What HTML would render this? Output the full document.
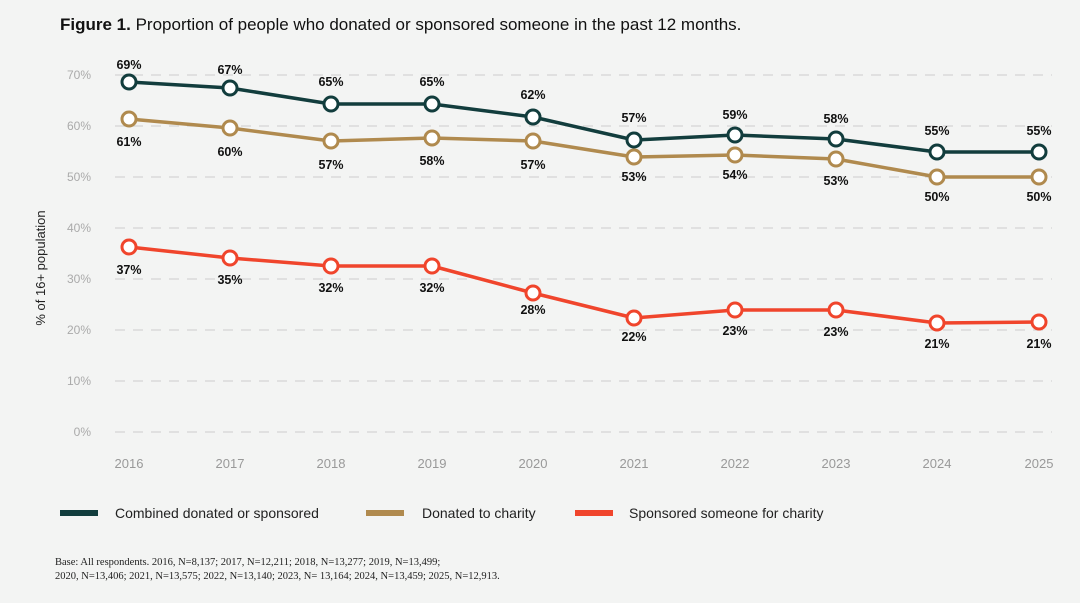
<!DOCTYPE html>
<html><head><meta charset="utf-8"><style>
body{margin:0;background:#f3f4f3;width:1080px;height:598px;overflow:hidden;font-family:"Liberation Sans",sans-serif}
</style></head><body>
<svg width="1080" height="598" xmlns="http://www.w3.org/2000/svg" font-family="Liberation Sans, sans-serif">
<rect width="1080" height="598" fill="#f3f4f3"/>
<text x="60" y="30" font-size="17" fill="#111"><tspan font-weight="bold">Figure 1.</tspan> Proportion of people who donated or sponsored someone in the past 12 months.</text>
<g stroke="#d4d4d4" stroke-width="1.2" stroke-dasharray="10,8">
<line x1="115" x2="1052" y1="75" y2="75"/><line x1="115" x2="1052" y1="126" y2="126"/><line x1="115" x2="1052" y1="177" y2="177"/><line x1="115" x2="1052" y1="228" y2="228"/><line x1="115" x2="1052" y1="279" y2="279"/><line x1="115" x2="1052" y1="330" y2="330"/><line x1="115" x2="1052" y1="381" y2="381"/><line x1="115" x2="1052" y1="432" y2="432"/>
</g>
<g font-size="12" fill="#aaa" text-anchor="end">
<text x="91" y="79">70%</text><text x="91" y="130">60%</text><text x="91" y="181">50%</text><text x="91" y="232">40%</text><text x="91" y="283">30%</text><text x="91" y="334">20%</text><text x="91" y="385">10%</text><text x="91" y="436">0%</text>
</g>
<text transform="translate(45,268) rotate(-90)" font-size="13" fill="#222" text-anchor="middle">% of 16+ population</text>
<g font-size="13" fill="#999" text-anchor="middle">
<text x="129" y="468">2016</text><text x="230" y="468">2017</text><text x="331" y="468">2018</text><text x="432" y="468">2019</text><text x="533" y="468">2020</text><text x="634" y="468">2021</text><text x="735" y="468">2022</text><text x="836" y="468">2023</text><text x="937" y="468">2024</text><text x="1039" y="468">2025</text>
</g>
<g fill="none" stroke-width="3.5" stroke-linejoin="round">
<polyline stroke="#123d3d" points="129,82 230,88 331,104 432,104 533,117 634,140 735,135 836,139 937,152 1039,152"/>
<polyline stroke="#b08a4e" points="129,119 230,128 331,141 432,138 533,141 634,157 735,155 836,159 937,177 1039,177"/>
<polyline stroke="#f0452c" points="129,247 230,258 331,266 432,266 533,293 634,318 735,310 836,310 937,323 1039,322"/>
</g>
<g fill="#fff" stroke-width="3">
<g stroke="#123d3d"><circle cx="129" cy="82" r="7"/><circle cx="230" cy="88" r="7"/><circle cx="331" cy="104" r="7"/><circle cx="432" cy="104" r="7"/><circle cx="533" cy="117" r="7"/><circle cx="634" cy="140" r="7"/><circle cx="735" cy="135" r="7"/><circle cx="836" cy="139" r="7"/><circle cx="937" cy="152" r="7"/><circle cx="1039" cy="152" r="7"/></g>
<g stroke="#b08a4e"><circle cx="129" cy="119" r="7"/><circle cx="230" cy="128" r="7"/><circle cx="331" cy="141" r="7"/><circle cx="432" cy="138" r="7"/><circle cx="533" cy="141" r="7"/><circle cx="634" cy="157" r="7"/><circle cx="735" cy="155" r="7"/><circle cx="836" cy="159" r="7"/><circle cx="937" cy="177" r="7"/><circle cx="1039" cy="177" r="7"/></g>
<g stroke="#f0452c"><circle cx="129" cy="247" r="7"/><circle cx="230" cy="258" r="7"/><circle cx="331" cy="266" r="7"/><circle cx="432" cy="266" r="7"/><circle cx="533" cy="293" r="7"/><circle cx="634" cy="318" r="7"/><circle cx="735" cy="310" r="7"/><circle cx="836" cy="310" r="7"/><circle cx="937" cy="323" r="7"/><circle cx="1039" cy="322" r="7"/></g>
</g>
<g font-size="12.5" font-weight="bold" fill="#111" text-anchor="middle">
<text x="129" y="69">69%</text><text x="230" y="74">67%</text><text x="331" y="86">65%</text><text x="432" y="86">65%</text><text x="533" y="99">62%</text><text x="634" y="122">57%</text><text x="735" y="119">59%</text><text x="836" y="123">58%</text><text x="937" y="135">55%</text><text x="1039" y="135">55%</text>
<text x="129" y="146">61%</text><text x="230" y="156">60%</text><text x="331" y="169">57%</text><text x="432" y="165">58%</text><text x="533" y="169">57%</text><text x="634" y="181">53%</text><text x="735" y="179">54%</text><text x="836" y="185">53%</text><text x="937" y="201">50%</text><text x="1039" y="201">50%</text>
<text x="129" y="274">37%</text><text x="230" y="284">35%</text><text x="331" y="292">32%</text><text x="432" y="292">32%</text><text x="533" y="314">28%</text><text x="634" y="341">22%</text><text x="735" y="335">23%</text><text x="836" y="336">23%</text><text x="937" y="348">21%</text><text x="1039" y="348">21%</text>
</g>
<rect x="60" y="510" width="38" height="6" fill="#123d3d"/>
<text x="115" y="518" font-size="14" fill="#222">Combined donated or sponsored</text>
<rect x="366" y="510" width="38" height="6" fill="#b08a4e"/>
<text x="422" y="518" font-size="14" fill="#222">Donated to charity</text>
<rect x="575" y="510" width="38" height="6" fill="#f0452c"/>
<text x="629" y="518" font-size="14" fill="#222">Sponsored someone for charity</text>
<g font-family="Liberation Serif, serif" font-size="10.5" fill="#222">
<text x="55" y="565">Base: All respondents. 2016, N=8,137; 2017, N=12,211; 2018, N=13,277; 2019, N=13,499;</text>
<text x="55" y="579">2020, N=13,406; 2021, N=13,575; 2022, N=13,140; 2023, N= 13,164; 2024, N=13,459; 2025, N=12,913.</text>
</g>
</svg>
</body></html>
